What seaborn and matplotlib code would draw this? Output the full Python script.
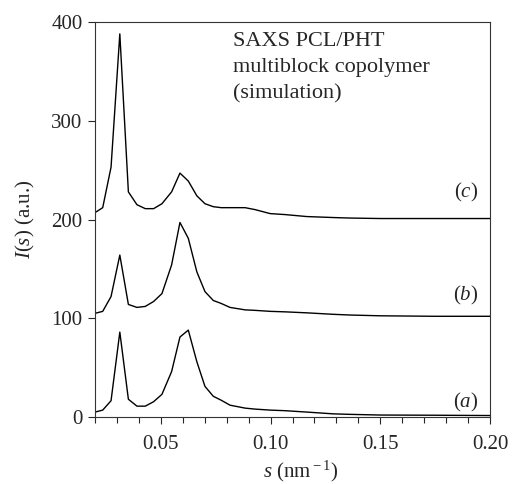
import matplotlib
matplotlib.use('Agg')
import matplotlib.pyplot as plt
import seaborn as sns
import pandas as pd
from matplotlib.ticker import MultipleLocator

# scattering vector s (nm^-1)
s = [0.0200, 0.0235, 0.0273, 0.0313, 0.0352, 0.0391, 0.0429, 0.0467, 0.0505,
     0.0549, 0.0587, 0.0625, 0.0664, 0.0701, 0.0739, 0.0775, 0.0815, 0.0884,
     0.0930, 0.0998, 0.1066, 0.1165, 0.1286, 0.1360, 0.1500, 0.1750, 0.2000]

# intensities (curves shifted by 100 in the original)
I_a = [5, 7, 16.5, 86, 18, 11, 11, 15.5, 23, 46, 81, 88, 56, 31, 21, 17, 12,
       9, 8, 7, 6.4, 5, 3.2, 2.7, 2, 1.8, 1.5]
I_b = [105, 107, 122, 164, 114, 111, 112, 117, 125, 154, 197, 181, 147, 127,
       118, 115, 111, 108.5, 108, 107, 106.5, 105.5, 104, 103.3, 102.5, 102, 102]
I_c = [207, 212, 253, 388, 228, 215, 211, 211, 216, 228, 247, 239, 224, 216,
       213, 212, 212, 212, 210, 206, 205, 203, 202, 201.5, 201, 201, 201]

curve_names = ['(a)', '(b)', '(c)']
label_y = [15, 123, 227]

df = pd.concat([
    pd.DataFrame({'s': s, 'I': I_a, 'curve': 'a'}),
    pd.DataFrame({'s': s, 'I': I_b, 'curve': 'b'}),
    pd.DataFrame({'s': s, 'I': I_c, 'curve': 'c'}),
])

sns.set_style('ticks')
plt.rcParams['font.family'] = ['Liberation Serif', 'DejaVu Serif']
plt.rcParams['mathtext.fontset'] = 'custom'
plt.rcParams['mathtext.rm'] = 'Liberation Serif'
plt.rcParams['mathtext.it'] = 'Liberation Serif:italic'

fig = plt.figure(figsize=(5.17, 4.84), dpi=100)
ax = fig.add_axes([0.1838, 0.1384, 0.764, 0.8161])

sns.lineplot(data=df, x='s', y='I', units='curve', estimator=None,
             color='black', linewidth=1.0, ax=ax, sort=False)

ax.set_xlim(0.02, 0.20)
ax.set_ylim(0, 400)
ax.set_xticks([0.05, 0.10, 0.15, 0.20])
ax.set_xticklabels(['0.05', '0.10', '0.15', '0.20'])
ax.set_yticks([0, 100, 200, 300, 400])
ax.xaxis.set_minor_locator(MultipleLocator(0.01))
ax.tick_params(axis='both', which='major', direction='out', length=5,
               width=0.8, labelsize=15, pad=4)
ax.tick_params(axis='x', which='minor', direction='out', length=4, width=0.8)
ax.tick_params(axis='x', which='major', pad=8)

for side in ['top', 'right', 'left', 'bottom']:
    ax.spines[side].set_visible(True)
    ax.spines[side].set_linewidth(0.8)
    ax.spines[side].set_color('#333333')

ax.set_xlabel(r'$s$ (nm$^{\rm -1}$)', fontsize=15, labelpad=4)
ax.xaxis.set_label_coords(0.52, -0.105)
ax.set_ylabel(r'$I$($s$) (a.u.)', fontsize=15, labelpad=10)

for name, yv in zip(curve_names, label_y):
    ax.text(0.189, yv, r'($\it{' + name[1] + r'}$)', fontsize=15,
            ha='center', va='center')

ax.text(0.0829, 390, 'SAXS PCL/PHT\nmultiblock copolymer\n(simulation)',
        fontsize=16, ha='left', va='top', linespacing=1.5)

fig.savefig('out.png', dpi=100)
